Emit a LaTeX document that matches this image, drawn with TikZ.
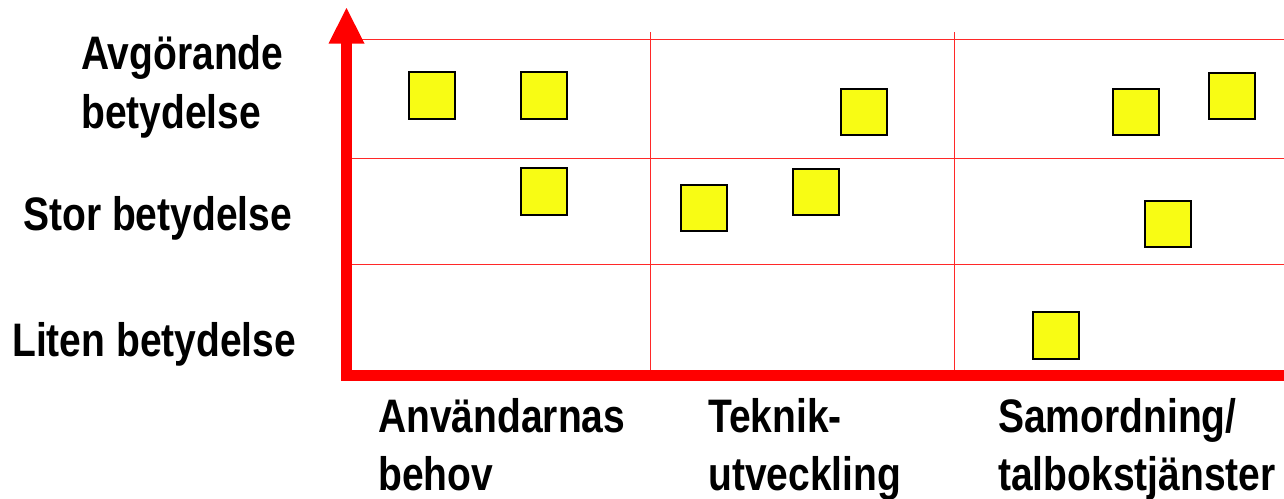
\documentclass[tikz,border=0pt]{standalone}
\usepackage{fontspec}
\newfontfamily\labfont[FakeStretch=0.83]{Liberation Sans}
\definecolor{boxyellow}{RGB}{248,252,20}
\definecolor{axisred}{RGB}{255,0,0}
\definecolor{gridred}{RGB}{255,40,40}
\tikzset{
  lab/.style={anchor=base west, inner sep=0pt, font=\labfont\bfseries\fontsize{47}{56}\selectfont},
  sq/.style={draw=black, line width=2pt, fill=boxyellow, minimum size=46.5pt, inner sep=0pt},
  gridline/.style={draw=gridred, line width=1.5pt},
  axisline/.style={draw=axisred, line width=11.5pt}
}
\begin{document}
\begin{tikzpicture}[x=1pt,y=-1pt]
\useasboundingbox (0,0) rectangle (1284,498);
\fill[white] (0,0) rectangle (1284,498);
% named coordinates
\coordinate (origin) at (346.5,375.5);
\coordinate (ytop) at (346.5,43);
\coordinate (tip) at (346.5,8);
\coordinate (xend) at (1290,375.5);
% grid
\draw[gridline] (346.5,39.5) -- (1290,39.5);
\draw[gridline] (346.5,158.5) -- (1290,158.5);
\draw[gridline] (346.5,264.5) -- (1290,264.5);
\draw[gridline] (650.5,32) -- (650.5,372);
\draw[gridline] (954.5,32) -- (954.5,372);
% axes
\draw[axisline, line join=miter] (xend) -- (origin) -- (ytop);
\fill[axisred] (tip) -- (364.5,43.5) -- (328.5,43.5) -- cycle;
% squares
\node[sq] (s1) at (432,95.7) {};
\node[sq] (s2) at (544,95.7) {};
\node[sq] (s3) at (544,191.5) {};
\node[sq] (s4) at (864,112) {};
\node[sq] (s5) at (704,208) {};
\node[sq] (s6) at (816,192) {};
\node[sq] (s7) at (1136,112) {};
\node[sq] (s8) at (1232,96) {};
\node[sq] (s9) at (1168,224) {};
\node[sq] (s10) at (1056,335.7) {};
% left labels
\node[lab] (l1a) at (81,69) {Avgörande};
\node[lab] (l1b) at (81,128) {betydelse};
\node[lab] (l2) at (23,230) {Stor betydelse};
\node[lab] (l3) at (12,356) {Liten betydelse};
% bottom labels
\node[lab] (b1a) at (378,432) {Användarnas};
\node[lab] (b1b) at (378,490) {behov};
\node[lab] (b2a) at (708,432) {Teknik-};
\node[lab] (b2b) at (708,490) {utveckling};
\node[lab] (b3a) at (998,432) {Samordning/};
\node[lab] (b3b) at (998,490) {talbokstjänster};
\end{tikzpicture}
\end{document}
